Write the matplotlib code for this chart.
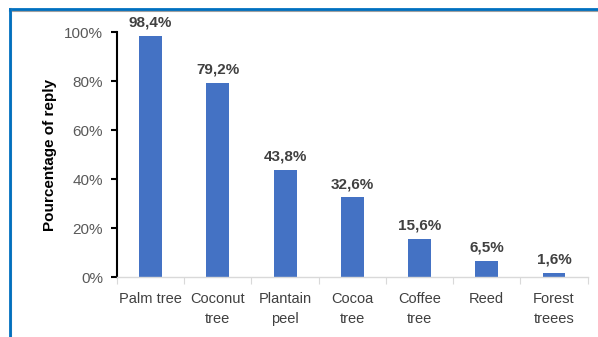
import matplotlib.pyplot as plt
from matplotlib.lines import Line2D
from matplotlib.ticker import PercentFormatter

# categories and share of replies (%)
categories = ["Palm tree", "Coconut\ntree", "Plantain\npeel", "Cocoa\ntree",
              "Coffee\ntree", "Reed", "Forest\ntreees"]
values = [98.4, 79.2, 43.8, 32.6, 15.6, 6.5, 1.6]
value_labels = ["98,4%", "79,2%", "43,8%", "32,6%", "15,6%", "6,5%", "1,6%"]

plt.rcParams['font.family'] = ['Liberation Sans', 'DejaVu Sans']

fig = plt.figure(figsize=(5.98, 3.37), dpi=100)
ax = fig.add_axes([0.1957, 0.178, 0.787, 0.727])

x = range(len(categories))
ax.bar(x, values, width=0.34, color="#4472C4")

for xi, v, lab in zip(x, values, value_labels):
    ax.text(xi, v + 2.5, lab, ha="center", va="bottom", fontsize=11,
            fontweight="bold", color="#404040")

ax.set_xlim(-0.5, len(categories) - 0.5)
ax.set_ylim(0, 100)
ax.set_yticks(range(0, 101, 20))
ax.yaxis.set_major_formatter(PercentFormatter(decimals=0))
ax.set_xticks([i - 0.5 for i in range(len(categories) + 1)], minor=False)
ax.set_xticklabels([])
ax.set_xticks(list(x), minor=True)
ax.set_xticklabels(categories, minor=True, linespacing=1.5)
ax.tick_params(axis="x", which="minor", length=0, pad=11, labelsize=10.5,
               labelcolor="#404040")
ax.tick_params(axis="x", which="major", length=5, color="#D9D9D9", direction="out")
ax.tick_params(axis="y", length=4, width=1.5, color="black", labelsize=11,
               labelcolor="#595959", pad=6)

for side in ["top", "right"]:
    ax.spines[side].set_visible(False)
ax.spines["left"].set_color("black")
ax.spines["left"].set_linewidth(1.5)
ax.spines["bottom"].set_color("#D9D9D9")
ax.spines["bottom"].set_linewidth(1)

ax.set_ylabel("Pourcentage of reply", fontsize=11, fontweight="bold",
              color="black", labelpad=5)

# blue frame along the top and left edges
W, H = 598, 337
fig.add_artist(Line2D([10 / W, 1], [1 - 10.5 / H] * 2, color="#A0A0A0", lw=1.5))
fig.add_artist(Line2D([10 / W, 1], [1 - 9 / H] * 2, color="#0070C0", lw=2))
fig.add_artist(Line2D([11 / W] * 2, [0, 1 - 9 / H], color="#A0A0A0", lw=1.5))
fig.add_artist(Line2D([10 / W] * 2, [0, 1 - 9 / H], color="#0070C0", lw=2))

fig.savefig("out.png", dpi=100)
